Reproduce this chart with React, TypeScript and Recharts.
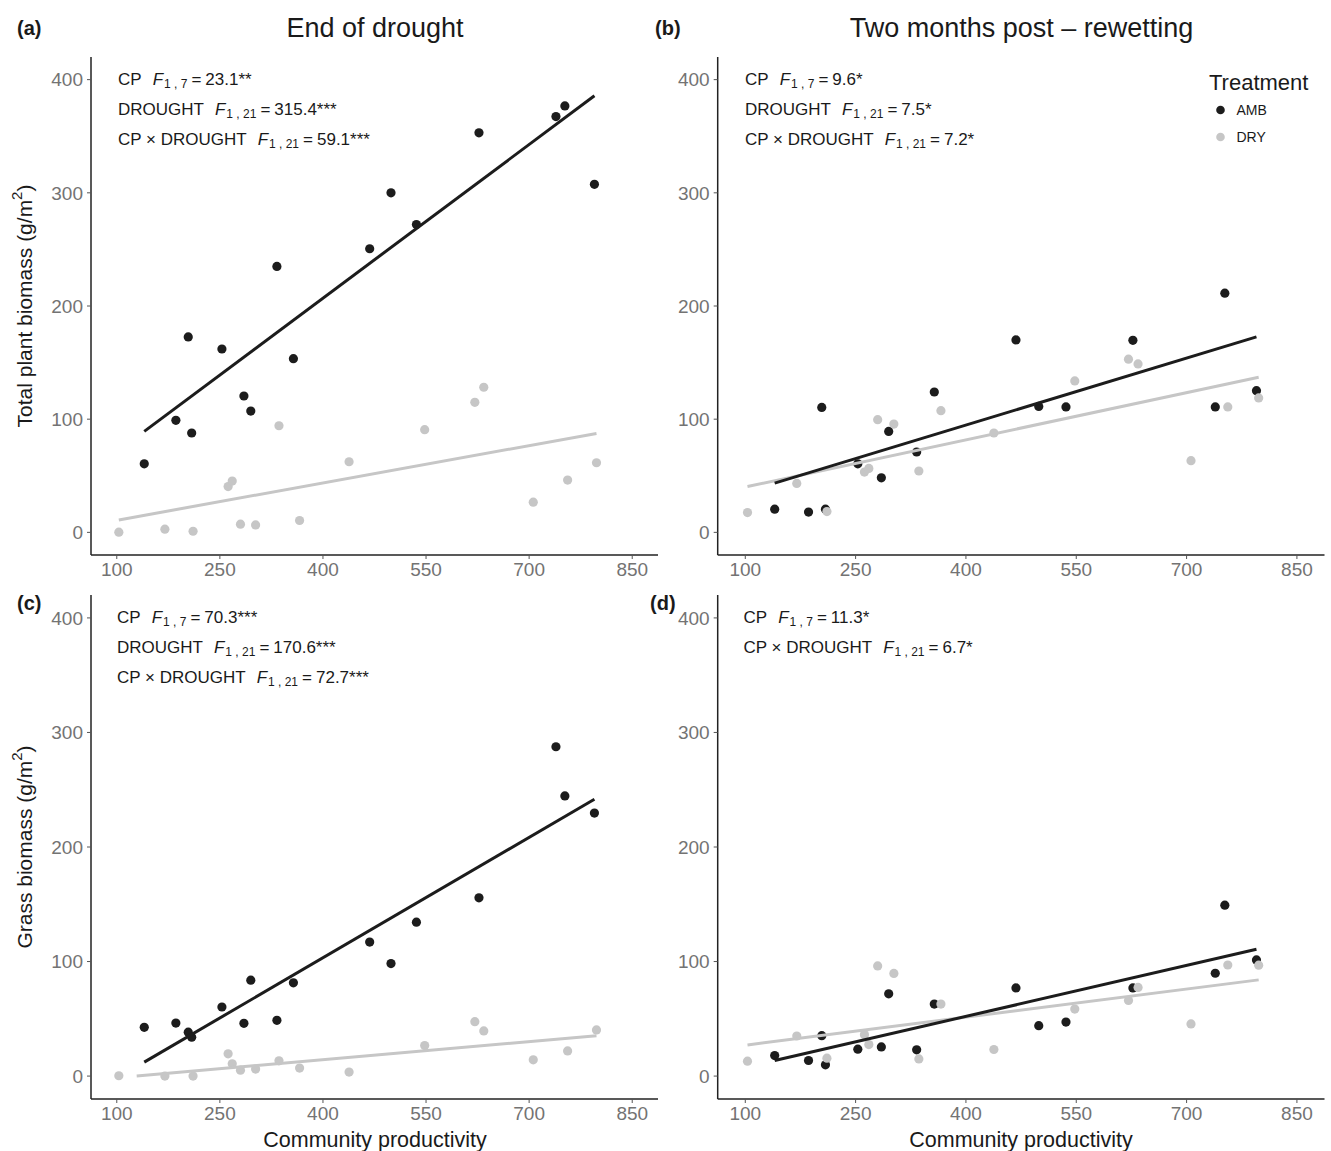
import React from "react";
import { ScatterChart, Scatter, XAxis, YAxis } from "recharts";

// community productivity of each plot (x), AMB and DRY plots
const cpAmb = [140, 186, 204, 209, 253, 285, 295, 333, 357, 468, 499, 536, 627, 739, 752, 795];
const cpDry = [103, 170, 211, 262, 268, 280, 302, 336, 366, 438, 548, 621, 634, 706, 756, 798];

// (a) total plant biomass, end of drought
const totalEndAmb = [60.6, 99, 172.7, 87.8, 162, 120.5, 107.2, 235, 153.5, 250.6, 300, 272, 353, 367.4, 376.8, 307.5];
const totalEndDry = [0.2, 2.8, 1, 40.5, 45.3, 7.2, 6.6, 94.2, 10.5, 62.4, 90.7, 114.9, 128.2, 26.7, 46.2, 61.5];
// (b) total plant biomass, two months post-rewetting
const totalPostAmb = [20.5, 17.9, 110.4, 20.5, 60.6, 48.2, 89.2, 71, 124, 170, 111.3, 110.8, 169.7, 110.8, 211.3, 125.2];
const totalPostDry = [17.5, 43.2, 18.4, 53.3, 56.5, 99.6, 95.7, 54.2, 107.5, 87.8, 133.8, 153, 148.8, 63.3, 110.8, 118.8];
// (c) grass biomass, end of drought
const grassEndAmb = [42.6, 46.3, 38.3, 33.9, 60.3, 46.1, 83.7, 48.7, 81.4, 117, 98.2, 134.4, 155.6, 287.5, 244.6, 229.6];
const grassEndDry = [0.3, 0, 0, 19.4, 10.7, 5.2, 6.1, 13.3, 7, 3.5, 26.6, 47.5, 39.4, 14.2, 22, 40.3];
// (d) grass biomass, two months post-rewetting
const grassPostAmb = [17.9, 13.6, 35.3, 9.8, 23.5, 25.5, 71.8, 22.9, 62.9, 77, 44, 47.2, 77, 89.8, 149.2, 101.4];
const grassPostDry = [13, 35, 15.6, 36.2, 27.5, 96.2, 89.6, 15, 62.9, 23.2, 58.5, 66, 77.4, 45.5, 97, 96.8];

// fitted lines: [x, y] end points
const fitTotalEndAmb = [[140, 89.2], [795, 385.7]];
const fitTotalEndDry = [[103, 11], [798, 87.4]];
const fitTotalPostAmb = [[140, 43.5], [795, 172.7]];
const fitTotalPostDry = [[103, 40.5], [798, 137]];
const fitGrassEndAmb = [[140, 12.2], [795, 241.7]];
const fitGrassEndDry = [[129, 0], [798, 35.3]];
const fitGrassPostAmb = [[140, 13.6], [795, 110.7]];
const fitGrassPostDry = [[103, 27.2], [798, 84]];

const xTicks = [100, 250, 400, 550, 700, 850];
const yTicks = [0, 100, 200, 300, 400];

// ANOVA annotations per panel: [term, df, value]
const statsA = [["CP", "1 , 7", "23.1**"], ["DROUGHT", "1 , 21", "315.4***"], ["CP × DROUGHT", "1 , 21", "59.1***"]];
const statsB = [["CP", "1 , 7", "9.6*"], ["DROUGHT", "1 , 21", "7.5*"], ["CP × DROUGHT", "1 , 21", "7.2*"]];
const statsC = [["CP", "1 , 7", "70.3***"], ["DROUGHT", "1 , 21", "170.6***"], ["CP × DROUGHT", "1 , 21", "72.7***"]];
const statsD = [["CP", "1 , 7", "11.3*"], ["CP × DROUGHT", "1 , 21", "6.7*"]];

const FONT = '"Liberation Sans", Arial, Helvetica, sans-serif';
const AMB_COL = "#1c1c1c";
const DRY_COL = "#c6c6c6";
const TICK_COL = "#737373";

type Pt = { x: number; y: number };
const zip = (xs: number[], ys: number[]): Pt[] => xs.map((x, i) => ({ x, y: ys[i] }));
const seg = (pairs: number[][]): Pt[] => pairs.map(([x, y]) => ({ x, y }));

const dot = (color: string) => (props: any) => (
  <circle cx={props.cx} cy={props.cy} r={4.6} fill={color} />
);
const noShape = () => <g />;

interface PanelProps {
  left: number;
  top: number;
  width: number;
  height: number;
  margin: { top: number; right: number; bottom: number; left: number };
  yWidth: number;
  amb: Pt[];
  dry: Pt[];
  ambFit: Pt[];
  dryFit: Pt[];
}

function Panel({ left, top, width, height, margin, yWidth, amb, dry, ambFit, dryFit }: PanelProps) {
  return (
    <div style={{ position: "absolute", left, top }}>
      <ScatterChart width={width} height={height} margin={margin}>
        <XAxis
          type="number"
          dataKey="x"
          domain={[62.5, 887.5]}
          ticks={xTicks}
          interval={0}
          height={25}
          tickSize={4}
          tickMargin={4}
          tick={{ fontSize: 19, fill: TICK_COL, fontFamily: FONT }}
          axisLine={{ stroke: "#222", strokeWidth: 1.5 }}
          tickLine={{ stroke: "#555" }}
          allowDataOverflow
        />
        <YAxis
          type="number"
          dataKey="y"
          domain={[-20, 420]}
          ticks={yTicks}
          interval={0}
          width={yWidth}
          tickSize={4}
          tickMargin={4}
          tick={{ fontSize: 19, fill: TICK_COL, fontFamily: FONT }}
          axisLine={{ stroke: "#222", strokeWidth: 1.5 }}
          tickLine={{ stroke: "#555" }}
          allowDataOverflow
        />
        <Scatter data={amb} shape={dot(AMB_COL)} isAnimationActive={false} />
        <Scatter data={dry} shape={dot(DRY_COL)} isAnimationActive={false} />
        <Scatter data={dryFit} shape={noShape} line={{ stroke: DRY_COL, strokeWidth: 3 }} isAnimationActive={false} />
        <Scatter data={ambFit} shape={noShape} line={{ stroke: AMB_COL, strokeWidth: 3 }} isAnimationActive={false} />
      </ScatterChart>
    </div>
  );
}

function Stats({ x, y0, rows }: { x: number; y0: number; rows: string[][] }) {
  return (
    <g>
      {rows.map(([term, df, val], i) => (
        <text key={i} x={x} y={y0 + i * 30} fontSize={17} fill="#1a1a1a" dominantBaseline="central">
          <tspan>{term}</tspan>
          <tspan dx={11} fontStyle="italic">F</tspan>
          <tspan dx={1} dy={5} fontSize={12}>{df}</tspan>
          <tspan dx={4} dy={-5}>=</tspan>
          <tspan dx={4}>{val}</tspan>
        </text>
      ))}
    </g>
  );
}

export default function App() {
  const topM = { top: 57, right: 7, bottom: 0, left: 0 };
  const botM = { top: 15, right: 7, bottom: 27, left: 0 };
  const topMR = { top: 57, right: 6.5, bottom: 0, left: 0 };
  const botMR = { top: 15, right: 6.5, bottom: 27, left: 0 };
  return (
    <div style={{ position: "absolute", left: 0, top: 0, width: 1331, height: 1151, background: "#fff", fontFamily: FONT }}>
      <Panel left={0} top={0} width={665} height={580} margin={topM} yWidth={91}
        amb={zip(cpAmb, totalEndAmb)} dry={zip(cpDry, totalEndDry)} ambFit={seg(fitTotalEndAmb)} dryFit={seg(fitTotalEndDry)} />
      <Panel left={665} top={0} width={666} height={580} margin={topMR} yWidth={52.7}
        amb={zip(cpAmb, totalPostAmb)} dry={zip(cpDry, totalPostDry)} ambFit={seg(fitTotalPostAmb)} dryFit={seg(fitTotalPostDry)} />
      <Panel left={0} top={580} width={665} height={571} margin={botM} yWidth={91}
        amb={zip(cpAmb, grassEndAmb)} dry={zip(cpDry, grassEndDry)} ambFit={seg(fitGrassEndAmb)} dryFit={seg(fitGrassEndDry)} />
      <Panel left={665} top={580} width={666} height={571} margin={botMR} yWidth={52.7}
        amb={zip(cpAmb, grassPostAmb)} dry={zip(cpDry, grassPostDry)} ambFit={seg(fitGrassPostAmb)} dryFit={seg(fitGrassPostDry)} />

      <svg width={1331} height={1151} style={{ position: "absolute", left: 0, top: 0, pointerEvents: "none" }} fontFamily={FONT}>
        <text x={375} y={28} fontSize={27} textAnchor="middle" dominantBaseline="central" fill="#1a1a1a">End of drought</text>
        <text x={1021.5} y={28} fontSize={27} textAnchor="middle" dominantBaseline="central" fill="#1a1a1a">Two months post – rewetting</text>

        <text x={17} y={28} fontSize={20} fontWeight="bold" dominantBaseline="central" fill="#1a1a1a">(a)</text>
        <text x={655} y={28} fontSize={20} fontWeight="bold" dominantBaseline="central" fill="#1a1a1a">(b)</text>
        <text x={17} y={603} fontSize={20} fontWeight="bold" dominantBaseline="central" fill="#1a1a1a">(c)</text>
        <text x={650} y={603} fontSize={20} fontWeight="bold" dominantBaseline="central" fill="#1a1a1a">(d)</text>

        <text transform="translate(24,306) rotate(-90)" fontSize={21} textAnchor="middle" dominantBaseline="central" fill="#1a1a1a">
          Total plant biomass (g/m<tspan dy={-8} fontSize={15}>2</tspan><tspan dy={8}>)</tspan>
        </text>
        <text transform="translate(24,847) rotate(-90)" fontSize={21} textAnchor="middle" dominantBaseline="central" fill="#1a1a1a">
          Grass biomass (g/m<tspan dy={-8} fontSize={15}>2</tspan><tspan dy={8}>)</tspan>
        </text>

        <text x={375} y={1140} fontSize={21.5} textAnchor="middle" dominantBaseline="central" fill="#1a1a1a">Community productivity</text>
        <text x={1021} y={1140} fontSize={21.5} textAnchor="middle" dominantBaseline="central" fill="#1a1a1a">Community productivity</text>

        <Stats x={118} y0={79} rows={statsA} />
        <Stats x={745} y0={79} rows={statsB} />
        <Stats x={117} y0={617} rows={statsC} />
        <Stats x={743.5} y0={617} rows={statsD} />

        <text x={1209} y={82} fontSize={22} dominantBaseline="central" fill="#1a1a1a">Treatment</text>
        <circle cx={1220.5} cy={110} r={4.3} fill={AMB_COL} />
        <text x={1236.5} y={110} fontSize={14} dominantBaseline="central" fill="#1a1a1a">AMB</text>
        <circle cx={1220.5} cy={137} r={4.3} fill={DRY_COL} />
        <text x={1236.5} y={137} fontSize={14} dominantBaseline="central" fill="#1a1a1a">DRY</text>
      </svg>
    </div>
  );
}
